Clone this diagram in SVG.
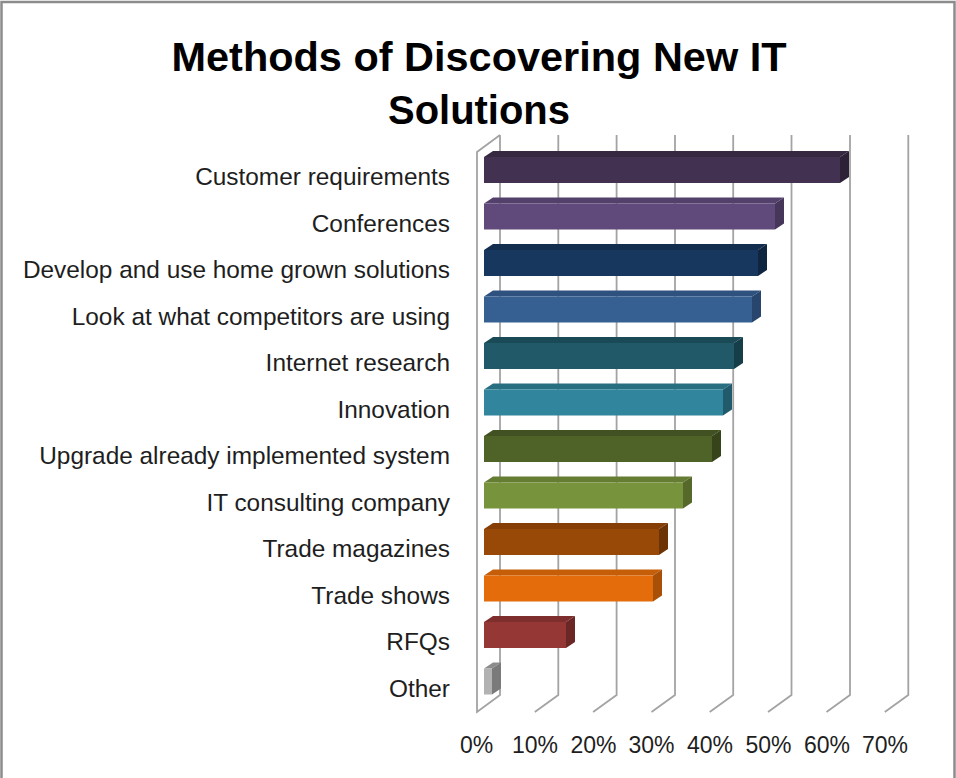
<svg xmlns="http://www.w3.org/2000/svg" width="956" height="778" viewBox="0 0 956 778">
<style>
.frame{fill:#ffffff;stroke:#8c8c8c;stroke-width:2.5}
.grid{stroke:#a3a3a3;stroke-width:1.8;fill:none}
.title{font-family:"Liberation Sans",Arial,sans-serif;font-weight:bold;font-size:41px;fill:#000;text-anchor:middle}
.cat{font-family:"Liberation Sans",Arial,sans-serif;font-size:24.4px;fill:#1e1e1e;text-anchor:end}
.tick{font-family:"Liberation Sans",Arial,sans-serif;font-size:23px;fill:#1e1e1e;text-anchor:middle}
</style>
<rect class="frame" x="1.5" y="2" width="953" height="820"/>
<g id="title">
<text class="title" x="479" y="71" textLength="615" lengthAdjust="spacingAndGlyphs">Methods of Discovering New IT</text>
<text class="title" x="479" y="124" textLength="182" lengthAdjust="spacingAndGlyphs">Solutions</text>
</g>
<g id="gridlines" class="grid">
<polyline points="500,135 477,152 477,712 500,695 500,135"/>
<polyline points="558.3,135 558.3,695 534.8,712"/>
<polyline points="616.6,135 616.6,695 593.1,712"/>
<polyline points="675,135 675,695 651.5,712"/>
<polyline points="733.2,135 733.2,695 709.7,712"/>
<polyline points="791.5,135 791.5,695 768,712"/>
<polyline points="850,135 850,695 826.5,712"/>
<polyline points="908.3,135 908.3,695 884.8,712"/>
</g>
<g id="bars">
<g id="bar-customer-requirements">
<polygon points="484,157 493,151 849,151 840,157" fill="#352840"/>
<polygon points="840,157 849,151 849,177 840,183" fill="#2c2136"/>
<rect x="484" y="157" width="356" height="26" fill="#433152"/>
</g>
<g id="bar-conferences">
<polygon points="484,203.5 493,197.5 784,197.5 775,203.5" fill="#53406b"/>
<polygon points="775,203.5 784,197.5 784,223.5 775,229.5" fill="#45365a"/>
<rect x="484" y="203.5" width="291" height="26" fill="#604a7b"/>
</g>
<g id="bar-develop">
<polygon points="484,250 493,244 767,244 758,250" fill="#122d4e"/>
<polygon points="758,250 767,244 767,270 758,276" fill="#0f2540"/>
<rect x="484" y="250" width="274" height="26" fill="#17375e"/>
</g>
<g id="bar-look">
<polygon points="484,296.5 493,290.5 761,290.5 752,296.5" fill="#2e5180"/>
<polygon points="752,296.5 761,290.5 761,316.5 752,322.5" fill="#27456d"/>
<rect x="484" y="296.5" width="268" height="26" fill="#376092"/>
</g>
<g id="bar-internet-research">
<polygon points="484,343 493,337 743,337 734,343" fill="#1b4a57"/>
<polygon points="734,343 743,337 743,363 734,369" fill="#163e49"/>
<rect x="484" y="343" width="250" height="26" fill="#215968"/>
</g>
<g id="bar-innovation">
<polygon points="484,389.5 493,383.5 732,383.5 723,389.5" fill="#286e81"/>
<polygon points="723,389.5 732,383.5 732,409.5 723,415.5" fill="#215b6b"/>
<rect x="484" y="389.5" width="239" height="26" fill="#31859c"/>
</g>
<g id="bar-upgrade">
<polygon points="484,436 493,430 721,430 712,436" fill="#415121"/>
<polygon points="712,436 721,430 721,456 712,462" fill="#36431b"/>
<rect x="484" y="436" width="228" height="26" fill="#4f6228"/>
</g>
<g id="bar-it-consulting">
<polygon points="484,482.5 493,476.5 692,476.5 683,482.5" fill="#657d33"/>
<polygon points="683,482.5 692,476.5 692,502.5 683,508.5" fill="#56692b"/>
<rect x="484" y="482.5" width="199" height="26" fill="#77933c"/>
</g>
<g id="bar-trade-magazines">
<polygon points="484,529 493,523 668,523 659,529" fill="#843e06"/>
<polygon points="659,529 668,523 668,549 659,555" fill="#6c3305"/>
<rect x="484" y="529" width="175" height="26" fill="#984807"/>
</g>
<g id="bar-trade-shows">
<polygon points="484,575.5 493,569.5 662,569.5 653,575.5" fill="#c65e09"/>
<polygon points="653,575.5 662,569.5 662,595.5 653,601.5" fill="#a85008"/>
<rect x="484" y="575.5" width="169" height="26" fill="#e46c0a"/>
</g>
<g id="bar-rfqs">
<polygon points="484,622 493,616 575,616 566,622" fill="#7e2e2c"/>
<polygon points="566,622 575,616 575,642 566,648" fill="#6a2725"/>
<rect x="484" y="622" width="82" height="26" fill="#953735"/>
</g>
<g id="bar-other">
<polygon points="484,668.5 493,662.5 501,662.5 492,668.5" fill="#8c8c8c"/>
<polygon points="492,668.5 501,662.5 501,688.5 492,694.5" fill="#7a7a7a"/>
<rect x="484" y="668.5" width="8" height="26" fill="#b2b2b2"/>
</g>
</g>
<g id="category-labels">
<text class="cat" x="450" y="185">Customer requirements</text>
<text class="cat" x="450" y="231.5">Conferences</text>
<text class="cat" x="450" y="278">Develop and use home grown solutions</text>
<text class="cat" x="450" y="324.5">Look at what competitors are using</text>
<text class="cat" x="450" y="371">Internet research</text>
<text class="cat" x="450" y="417.5">Innovation</text>
<text class="cat" x="450" y="464">Upgrade already implemented system</text>
<text class="cat" x="450" y="510.5">IT consulting company</text>
<text class="cat" x="450" y="557">Trade magazines</text>
<text class="cat" x="450" y="603.5">Trade shows</text>
<text class="cat" x="450" y="650">RFQs</text>
<text class="cat" x="450" y="696.5">Other</text>
</g>
<g id="axis-labels">
<text class="tick" x="476.5" y="753">0%</text>
<text class="tick" x="535" y="753">10%</text>
<text class="tick" x="593.5" y="753">20%</text>
<text class="tick" x="651.5" y="753">30%</text>
<text class="tick" x="710" y="753">40%</text>
<text class="tick" x="768.5" y="753">50%</text>
<text class="tick" x="827" y="753">60%</text>
<text class="tick" x="885" y="753">70%</text>
</g>
</svg>
